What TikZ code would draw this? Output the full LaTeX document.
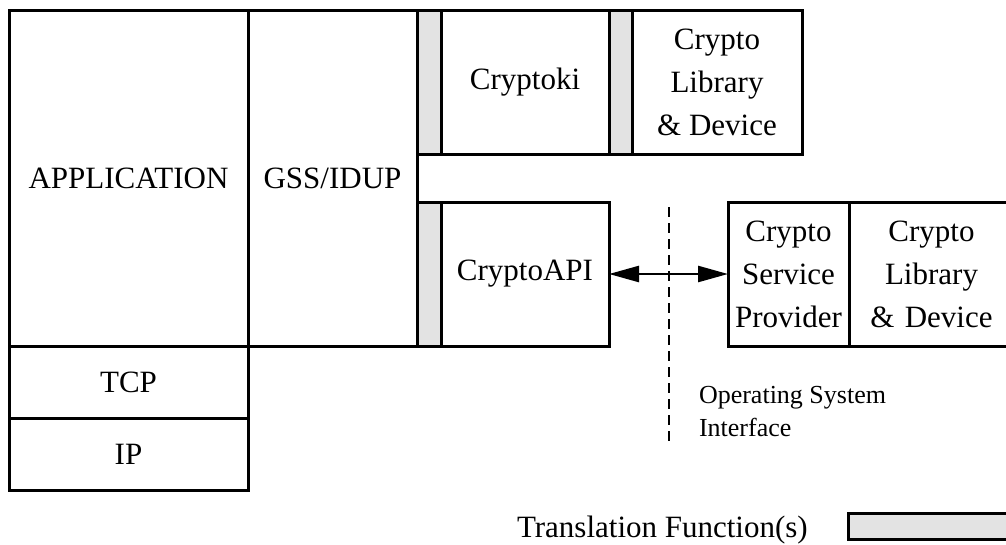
\documentclass[tikz,border=0pt]{standalone}
\usepackage{fontspec}
\setmainfont{Liberation Serif}
\usetikzlibrary{arrows.meta}
\definecolor{tfgray}{HTML}{E3E3E3}
\begin{document}
\begin{tikzpicture}[x=1pt,y=-1pt,
  blk/.style={draw=black, line width=3pt, inner sep=0pt, outer sep=0pt, anchor=north west, align=center, font=\fontsize{31}{43}\selectfont},
  tf/.style={blk, fill=tfgray},
  lbl/.style={inner sep=0pt, outer sep=0pt, align=left},
  osline/.style={line width=1.5pt, dash pattern=on 10pt off 6pt},
  link/.style={line width=2.5pt, {Triangle[length=30pt,width=16pt]}-{Triangle[length=30pt,width=16pt]}}
]
\path[use as bounding box, clip] (0,0) rectangle (1006,544);
\node[blk, minimum width=239pt, minimum height=336pt] (app) at (9,10) {APPLICATION};
\node[blk, minimum width=169pt, minimum height=336pt] (gss) at (248,10) {GSS/IDUP};
\node[tf, minimum width=24pt, minimum height=144pt] (s1) at (417,10) {};
\node[blk, minimum width=168pt, minimum height=144pt] (cki) at (441,10) {Cryptoki};
\node[tf, minimum width=23pt, minimum height=144pt] (s2) at (609,10) {};
\node[blk, minimum width=170pt, minimum height=144pt] (cld1) at (632,10) {Crypto\\Library\\\& Device};
\node[tf, minimum width=24pt, minimum height=144pt] (s3) at (417,202) {};
\node[blk, minimum width=168pt, minimum height=144pt] (api) at (441,202) {CryptoAPI};
\node[blk, minimum width=121pt, minimum height=144pt] (csp) at (728,202) {Crypto\\Service\\Provider};
\node[blk, minimum width=165pt, minimum height=144pt, text width=157pt] (cld2) at (849,202) {Crypto\\Library\\\& Device};
\node[blk, minimum width=239pt, minimum height=72pt] (tcp) at (9,346) {TCP};
\node[blk, minimum width=239pt, minimum height=72pt] (ip) at (9,418) {IP};
\coordinate (d1) at (669,207);
\coordinate (d2) at (669,442);
\draw[osline] (d1) -- (d2);
\draw[link] (api.east) -- (csp.west);
\node[lbl, anchor=west, font=\fontsize{26}{33}\selectfont] (osi) at (699,412) {Operating System\\Interface};
\node[lbl, anchor=base west, font=\fontsize{31}{43}\selectfont] (tft) at (517,537) {Translation Function(s)};
\node[tf, minimum width=170pt, minimum height=26pt] (tfr) at (848,513) {};
\end{tikzpicture}
\end{document}
